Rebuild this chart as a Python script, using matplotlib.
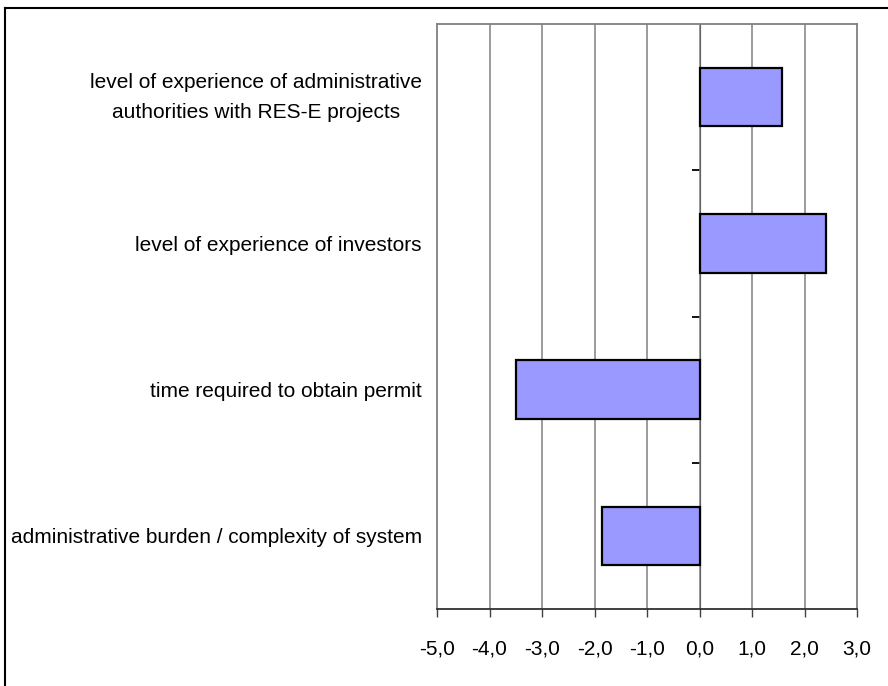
import matplotlib
matplotlib.use("Agg")
import matplotlib.pyplot as plt
from matplotlib import font_manager
from matplotlib.lines import Line2D
from matplotlib.transforms import ScaledTranslation

categories = [
    "level of experience of administrative\nauthorities with RES-E projects",
    "level of experience of investors",
    "time required to obtain permit",
    "administrative burden / complexity of system",
]
values = [1.58, 2.4, -3.5, -1.85]
xticks = [-5, -4, -3, -2, -1, 0, 1, 2, 3]
xticklabels = ["-5,0", "-4,0", "-3,0", "-2,0", "-1,0", "0,0", "1,0", "2,0", "3,0"]

available = {f.name for f in font_manager.fontManager.ttflist}
family = "Liberation Sans"
fsize = 15
for cand, sz in [("Liberation Sans Narrow", 18), ("Arial Narrow", 18)]:
    if cand in available:
        family, fsize = cand, sz
        break
plt.rcParams["font.family"] = [family, "DejaVu Sans"]

fig = plt.figure(figsize=(8.88, 6.86), dpi=100)
W, H = 888, 686
ax = fig.add_axes([437 / W, (H - 609) / H, 420 / W, 585 / H])

n = len(categories)
ypos = list(range(n))
ax.barh(ypos, values, height=0.4, color="#9999FF", edgecolor="black",
        linewidth=1.6, zorder=3)
ax.set_ylim(n - 0.5, -0.5)
ax.set_xlim(-5, 3)

ax.set_xticks(xticks)
ax.set_xticklabels(xticklabels, fontsize=fsize)
ax.set_yticks(ypos)
ax.set_yticklabels(categories, fontsize=fsize, multialignment="center",
                   linespacing=1.75)
ax.tick_params(axis="y", length=0, pad=11)
ax.tick_params(axis="x", length=6, width=1, color="#404040", pad=16,
               direction="out")

# lift the two-line label slightly, as in the reference
lbl = ax.get_yticklabels()[0]
lbl.set_transform(lbl.get_transform() +
                  ScaledTranslation(0, 7 / 100, fig.dpi_scale_trans))

for x in xticks[1:-1]:
    ax.axvline(x, color="#808080", linewidth=1.1, zorder=1)

for side in ("top", "left", "right"):
    ax.spines[side].set_color("#808080")
    ax.spines[side].set_linewidth(1.3)
ax.spines["bottom"].set_color("#303030")
ax.spines["bottom"].set_linewidth(1.3)

# zero axis with tick marks at category boundaries
xmin, xmax = ax.get_xlim()
loc = (0 - xmin) / (xmax - xmin)
sec = ax.secondary_yaxis(loc)
sec.set_yticks([i + 0.5 for i in range(n - 1)])
sec.set_yticklabels([])
sec.tick_params(length=6, width=1.3, color="black", direction="in")
sec.spines["left"].set_color("#808080")
sec.spines["left"].set_linewidth(1.1)

# outer frame (top and left)
fig.add_artist(Line2D([5 / W, 1], [1 - 8 / H, 1 - 8 / H], color="black",
                      linewidth=1.5, transform=fig.transFigure))
fig.add_artist(Line2D([5 / W, 5 / W], [0, 1 - 8 / H], color="black",
                      linewidth=1.5, transform=fig.transFigure))

fig.savefig("out.png", dpi=100)
